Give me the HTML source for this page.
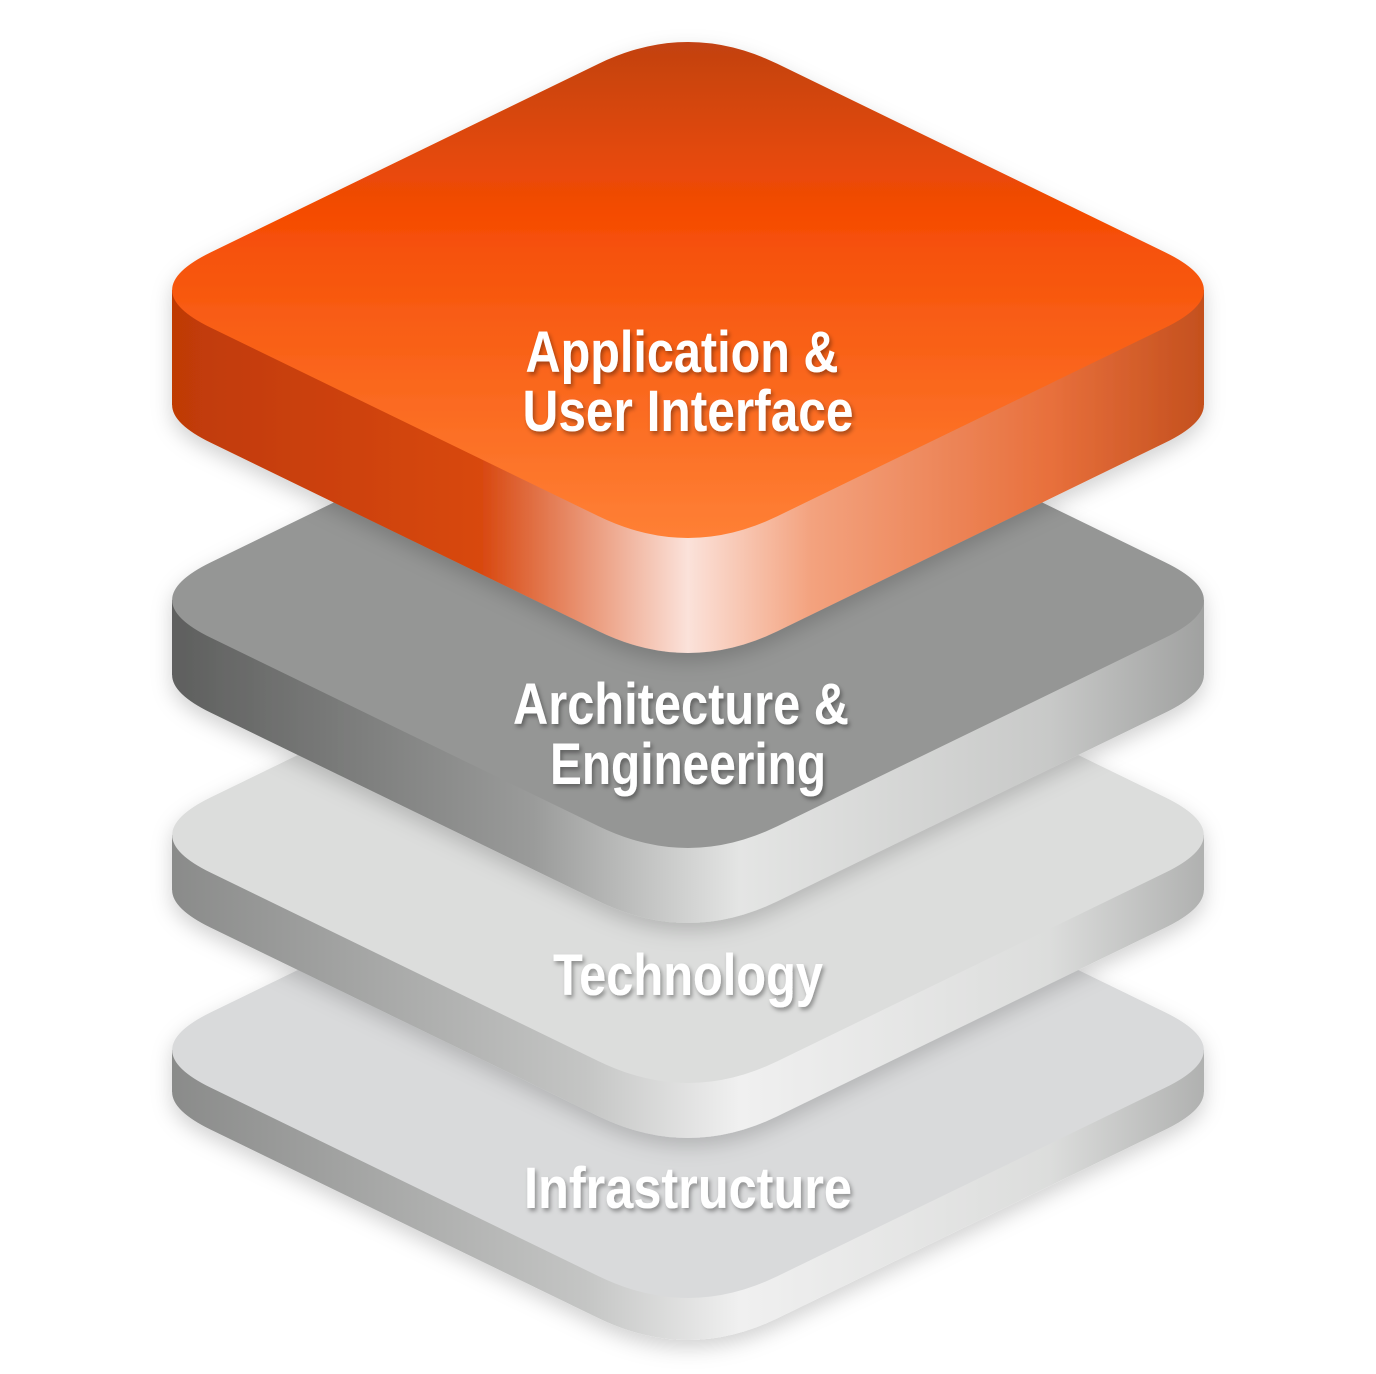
<!DOCTYPE html>
<html><head><meta charset="utf-8"><style>
html,body{margin:0;padding:0;background:#fff;}
svg{display:block}
text{font-family:"Liberation Sans Narrow","Liberation Sans",sans-serif;font-weight:bold;fill:#fff;text-anchor:middle;}
</style></head><body>
<svg width="1376" height="1374" viewBox="0 0 1376 1374" xmlns="http://www.w3.org/2000/svg">
<defs>
<path id="d" d="M-83.1,-208.9 Q0,-249 83.1,-208.9 L443.8,-34.9 Q516,0 443.8,34.9 L83.1,208.9 Q0,249 -83.1,208.9 L-443.8,34.9 Q-516,0 -443.8,-34.9 Z"/>
<linearGradient id="oTop" x1="0" y1="0" x2="0" y2="1">
<stop offset="0" stop-color="#c24212"/><stop offset="0.35" stop-color="#f54c04"/><stop offset="1" stop-color="#ff8035"/></linearGradient>
<linearGradient id="oSide" x1="0" y1="0" x2="1" y2="0">
<stop offset="0" stop-color="#bf3a06"/><stop offset="0.3" stop-color="#d84810"/><stop offset="0.5" stop-color="#fbe2da"/><stop offset="0.62" stop-color="#f3a27e"/><stop offset="0.85" stop-color="#e8703c"/><stop offset="1" stop-color="#c4501e"/></linearGradient>
<linearGradient id="g2Side" x1="0" y1="0" x2="1" y2="0">
<stop offset="0" stop-color="#5e5f5e"/><stop offset="0.35" stop-color="#9a9b9a"/><stop offset="0.55" stop-color="#e4e5e4"/><stop offset="0.85" stop-color="#c8c9c8"/><stop offset="1" stop-color="#a0a1a0"/></linearGradient>
<linearGradient id="g3Side" x1="0" y1="0" x2="1" y2="0">
<stop offset="0" stop-color="#8a8b8a"/><stop offset="0.4" stop-color="#c4c5c4"/><stop offset="0.55" stop-color="#f0f0f0"/><stop offset="0.85" stop-color="#dcdddc"/><stop offset="1" stop-color="#b0b1b0"/></linearGradient>
<filter id="ts" x="-10%" y="-20%" width="120%" height="150%"><feDropShadow dx="2" dy="3" stdDeviation="2" flood-color="#000" flood-opacity="0.35"/></filter>
<filter id="sh" x="-10%" y="-10%" width="120%" height="130%"><feDropShadow dx="0" dy="8" stdDeviation="10" flood-color="#000" flood-opacity="0.18"/></filter>
</defs>

<g filter="url(#sh)">
<use href="#d" transform="translate(688,1092) scale(1.075,1.083)" fill="url(#g3Side)"/>
<rect x="172" y="1050" width="1032" height="42" fill="url(#g3Side)"/>
<use href="#d" transform="translate(688,1050) scale(1.075,1.083)" fill="#d9dadb"/>
</g>
<g filter="url(#sh)">
<use href="#d" transform="translate(688,890) scale(1.075,1.083)" fill="url(#g3Side)"/>
<rect x="172" y="835" width="1032" height="55" fill="url(#g3Side)"/>
<use href="#d" transform="translate(688,835) scale(1.075,1.083)" fill="#dcdddc"/>
</g>
<g filter="url(#sh)">
<use href="#d" transform="translate(688,675) scale(1.075,1.083)" fill="url(#g2Side)"/>
<rect x="172" y="600" width="1032" height="75" fill="url(#g2Side)"/>
<use href="#d" transform="translate(688,600) scale(1.075,1.083)" fill="#959695"/>
</g>
<g filter="url(#sh)">
<use href="#d" transform="translate(688,405) scale(1.075,1.083)" fill="url(#oSide)"/>
<rect x="172" y="290" width="1032" height="115" fill="url(#oSide)"/>
<use href="#d" transform="translate(688,290) scale(1.075,1.083)" fill="url(#oTop)"/>
</g>

<g filter="url(#ts)">
<text x="682" y="372" font-size="58" textLength="313" lengthAdjust="spacingAndGlyphs">Application &amp;</text>
<text x="688" y="431" font-size="58" textLength="331" lengthAdjust="spacingAndGlyphs">User Interface</text>
<text x="681" y="724" font-size="58" textLength="336" lengthAdjust="spacingAndGlyphs">Architecture &amp;</text>
<text x="688" y="784" font-size="58" textLength="276" lengthAdjust="spacingAndGlyphs">Engineering</text>
<text x="688" y="995" font-size="58" textLength="270" lengthAdjust="spacingAndGlyphs">Technology</text>
<text x="688" y="1208" font-size="58" textLength="328" lengthAdjust="spacingAndGlyphs">Infrastructure</text>
</g>
</svg>
</body></html>
